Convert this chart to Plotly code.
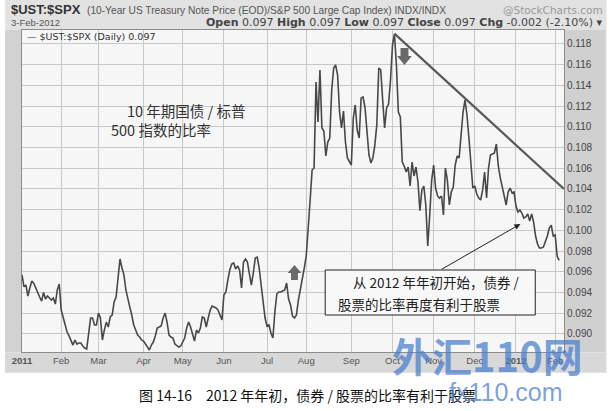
import plotly.graph_objects as go

# ---------------- data ----------------
jan11_days = [3, 4, 5, 6, 7, 10, 11, 12, 13, 14, 18, 19, 20, 21, 24, 25, 26, 27, 28, 31]
jan11_vals = [0.0957, 0.09455, 0.09472, 0.09366, 0.09443, 0.0951, 0.0949, 0.0944, 0.09404, 0.09356,
              0.09317, 0.0940, 0.09337, 0.09366, 0.09346, 0.09327, 0.09346, 0.09288, 0.09424, 0.09482]
feb11_days = [1, 2, 3, 4, 7, 8, 9, 10, 11, 14, 15, 16, 17, 18, 22, 23, 24, 25, 28]
feb11_vals = [0.0923, 0.09163, 0.09076, 0.09018, 0.0898, 0.08931, 0.08892, 0.08941, 0.08902, 0.08912,
              0.08912, 0.08883, 0.08863, 0.08854, 0.0899, 0.09153, 0.09153, 0.09086, 0.09086]
mar11_days = [1, 2, 3, 4, 7, 8, 9, 10, 11, 14, 15, 16, 17, 18, 21, 22, 23, 24, 25, 28, 29, 30, 31]
mar11_vals = [0.09201, 0.09153, 0.08941, 0.09037, 0.09114, 0.09066, 0.09163, 0.09182, 0.09308, 0.09356,
              0.0952, 0.09723, 0.09636, 0.0957, 0.09424, 0.09327, 0.09259, 0.09182, 0.09086, 0.09037,
              0.08989, 0.0897, 0.08941]
apr11_days = [1, 4, 5, 6, 7, 8, 11, 12, 13, 14, 15, 18, 19, 20, 21, 25, 26, 27, 28, 29]
apr11_vals = [0.08931, 0.08902, 0.08873, 0.08844, 0.08892, 0.08921, 0.0898, 0.09057, 0.09066, 0.09076,
              0.09153, 0.09201, 0.09114, 0.08989, 0.0897, 0.0896, 0.08902, 0.08883, 0.08873, 0.08883]
may11_days = [2, 3, 4, 5, 6, 9, 10, 11, 12, 13, 16, 17, 18, 19, 20, 23, 24, 25, 26, 27, 31]
may11_vals = [0.08921, 0.0896, 0.09057, 0.09114, 0.09066, 0.08989, 0.08931, 0.09037, 0.09008, 0.09057,
              0.09163, 0.09153, 0.09066, 0.09153, 0.0923, 0.09269, 0.09259, 0.0925, 0.0923, 0.09172, 0.09134]
jun11_days = [1, 2, 3, 6, 7, 8, 9, 10, 13, 14, 15, 16, 17, 20, 21, 22, 23, 24, 27, 28, 29, 30]
jun11_vals = [0.09375, 0.09404, 0.0952, 0.09617, 0.09675, 0.09685, 0.09627, 0.09656, 0.09617, 0.09443,
              0.09694, 0.09723, 0.09694, 0.0957, 0.09472, 0.09588, 0.09733, 0.09742, 0.09636, 0.09472,
              0.09327, 0.09153]
jul11_days = [1, 5, 6, 7, 8, 11, 12, 13, 14, 15, 18, 19, 20, 21, 22, 25, 26, 27, 28, 29]
jul11_vals = [0.09076, 0.09086, 0.09008, 0.0896, 0.09211, 0.09385, 0.09404, 0.09404, 0.09414, 0.09424,
              0.09491, 0.09337, 0.09279, 0.09172, 0.09153, 0.09182, 0.09327, 0.09424, 0.0952, 0.09636]
aug11_days = [1, 2, 3, 4, 5, 8, 9, 10, 11, 12, 15, 16, 17, 18, 19, 22, 23, 24, 25, 26, 29, 30, 31]
aug11_vals = [0.09752, 0.09984, 0.10293, 0.10583, 0.10602, 0.11433, 0.11047, 0.11549, 0.10989, 0.1096,
              0.10718, 0.10853, 0.10892, 0.11356, 0.11568, 0.11597, 0.1150, 0.11143, 0.10989, 0.11153,
              0.10853, 0.10699, 0.1066]
sep11_days = [1, 2, 6, 7, 8, 9, 12, 13, 14, 15, 16, 19, 20, 21, 22, 23, 26, 27, 28, 29, 30]
sep11_vals = [0.10631, 0.11085, 0.11211, 0.10969, 0.10892, 0.11278, 0.11288, 0.11182, 0.10921, 0.10728,
              0.1065, 0.10699, 0.10824, 0.11018, 0.11568, 0.11549, 0.11259, 0.10989, 0.11182, 0.1122, 0.11452]
oct11_days = [3, 4, 5, 6, 7, 10, 11, 12, 13, 14, 17, 18, 19, 20, 21, 24, 25, 26, 27, 28, 31]
oct11_vals = [0.1179, 0.11897, 0.11597, 0.11143, 0.11095, 0.1066, 0.10621, 0.10563, 0.10612, 0.10428,
              0.1066, 0.10525, 0.10612, 0.10467, 0.1019, 0.1039, 0.10428, 0.10245, 0.09849, 0.10148, 0.10486]
nov11_days = [1, 2, 3, 4, 7, 8, 9, 10, 11, 14, 15, 16, 17, 18, 21, 22, 23, 25, 28, 29, 30]
nov11_vals = [0.10631, 0.10409, 0.10332, 0.10312, 0.10332, 0.10148, 0.10602, 0.10486, 0.10245, 0.1037,
              0.10419, 0.10631, 0.10718, 0.10699, 0.10921, 0.11143, 0.11259, 0.11114, 0.10892, 0.10602, 0.10409]
dec11_days = [1, 2, 5, 6, 7, 8, 9, 12, 13, 14, 15, 16, 19, 20, 21, 22, 23, 27, 28, 29, 30]
dec11_vals = [0.10428, 0.10351, 0.10312, 0.10293, 0.1039, 0.10563, 0.10312, 0.10602, 0.10728, 0.10737,
              0.10747, 0.10834, 0.10621, 0.10506, 0.10419, 0.10351, 0.10245, 0.1037, 0.10409, 0.10361, 0.1037]
jan12_days = [3, 4, 5, 6, 9, 10, 11, 12, 13, 17, 18, 19, 20, 23, 24, 25, 26, 27, 30, 31]
jan12_vals = [0.10235, 0.10177, 0.10196, 0.10167, 0.10119, 0.10129, 0.10158, 0.1009, 0.10158, 0.1008,
              0.09945, 0.09868, 0.09829, 0.09829, 0.09839, 0.09887, 0.09945, 0.10022, 0.1005, 0.09945]
feb12_days = [1, 2, 3]
feb12_vals = [0.09955, 0.09752, 0.0971]

trend_dates = ["2011-10-04", "2012-02-07 12:00"]
trend_vals = [0.1190, 0.1040]

month_ticks = ["2011-01-03", "2011-02-01", "2011-03-01", "2011-04-01", "2011-05-02", "2011-06-01",
               "2011-07-01", "2011-08-01", "2011-09-01", "2011-10-03", "2011-11-01", "2011-12-01",
               "2012-01-03", "2012-02-01"]
month_labels = ["<b>2011</b>", "Feb", "Mar", "Apr", "May", "Jun", "Jul", "Aug", "Sep", "Oct", "Nov",
                "Dec", "<b>2012</b>", "Feb"]
y_ticks = [0.090, 0.092, 0.094, 0.096, 0.098, 0.100, 0.102, 0.104, 0.106, 0.108, 0.110, 0.112,
           0.114, 0.116, 0.118]
holidays = ["2011-01-17", "2011-02-21", "2011-04-22", "2011-05-30", "2011-07-04", "2011-09-05",
            "2011-11-24", "2011-12-26", "2012-01-02", "2012-01-16"]

blocks = [("2011-01", jan11_days, jan11_vals), ("2011-02", feb11_days, feb11_vals),
          ("2011-03", mar11_days, mar11_vals), ("2011-04", apr11_days, apr11_vals),
          ("2011-05", may11_days, may11_vals), ("2011-06", jun11_days, jun11_vals),
          ("2011-07", jul11_days, jul11_vals), ("2011-08", aug11_days, aug11_vals),
          ("2011-09", sep11_days, sep11_vals), ("2011-10", oct11_days, oct11_vals),
          ("2011-11", nov11_days, nov11_vals), ("2011-12", dec11_days, dec11_vals),
          ("2012-01", jan12_days, jan12_vals), ("2012-02", feb12_days, feb12_vals)]
dates, values = [], []
for ym, days, vals in blocks:
    dates += [f"{ym}-{d:02d}" for d in days]
    values += vals

# ---------------- layout helpers (pixel -> paper) ----------------
W_FIG, H_FIG = 610, 411
L, R, T, B = 17, 564, 30, 352
PW, PH = R - L, B - T


def xp(px):
    return (px - L) / PW


def yp(py):
    return (B - py) / PH


def path(points):
    return "M " + " L ".join(f"{xp(x):.5f},{yp(y):.5f}" for x, y in points) + " Z"


fig = go.Figure()
fig.add_trace(go.Scatter(x=dates, y=values, mode="lines",
                         line=dict(color="#484848", width=1.6), showlegend=False,
                         name="$UST:$SPX (Daily)"))
fig.add_trace(go.Scatter(x=trend_dates, y=trend_vals, mode="lines",
                         line=dict(color="#585858", width=2.2), showlegend=False))

shapes = [
    dict(type="rect", xref="paper", yref="paper", x0=xp(0), x1=xp(607), y0=yp(373), y1=yp(0),
         fillcolor="#e2e2e2", line_width=0, layer="below"),
    dict(type="rect", xref="paper", yref="paper", x0=xp(0), x1=xp(16), y0=yp(352), y1=yp(30),
         fillcolor="#d2d2d2", line_width=0, layer="below"),
    dict(type="rect", xref="paper", yref="paper", x0=xp(564), x1=xp(606), y0=yp(352), y1=yp(30),
         fillcolor="#d0d0d0", line_width=0, layer="below"),
    dict(type="rect", xref="paper", yref="paper", x0=xp(0), x1=xp(606), y0=yp(372), y1=yp(353),
         fillcolor="#d8d8d8", line_width=0, layer="below"),
    dict(type="rect", xref="paper", yref="paper", x0=0, x1=1, y0=0, y1=1,
         fillcolor="#f6f6f6", line_width=0, layer="below"),
    dict(type="rect", xref="paper", yref="paper", x0=xp(323), x1=xp(535), y0=yp(315), y1=yp(270),
         fillcolor="#f8f8f8", line=dict(color="#222222", width=1), layer="above"),
    dict(type="path", xref="paper", yref="paper", layer="above", line_width=0, fillcolor="#6a6a6a",
         path=path([(399, 48), (407, 48), (407, 56), (410.5, 56), (403, 65), (395.5, 56), (399, 56)])),
    dict(type="path", xref="paper", yref="paper", layer="above", line_width=0, fillcolor="#6a6a6a",
         path=path([(292, 265), (299, 273), (295.5, 273), (295.5, 280), (288.5, 280), (288.5, 273), (285, 273)])),
]

FONT = "Liberation Sans, Arial, sans-serif"
WIDE = "DejaVu Sans, Verdana, sans-serif"
CJK = "Noto Sans CJK SC"


def ann(text, px, py, size, color="#333333", xanchor="left", family=FONT, yanchor="middle"):
    return dict(text=text, x=xp(px), y=yp(py), xref="paper", yref="paper", showarrow=False,
                xanchor=xanchor, yanchor=yanchor, font=dict(size=size, color=color, family=family))


annotations = [
    ann("<b>$UST:$SPX</b>", 4, 9.5, 13, "#333333"),
    ann("(10-Year US Treasury Note Price (EOD)/S&P 500 Large Cap Index) INDX/INDX", 81, 10, 10.2, "#555555"),
    ann("@StockCharts.com", 605, 10, 10.5, "#999999", xanchor="right", family=WIDE),
    ann("3-Feb-2012", 4, 22.5, 9.5, "#555555"),
    ann("<b>Open</b> 0.097 <b>High</b> 0.097 <b>Low</b> 0.097 <b>Close</b> 0.097 <b>Chg</b> -0.002 (-2.10%) ▾",
        605, 22.5, 11, "#444444", xanchor="right", family=WIDE),
    ann("— $UST:$SPX (Daily) 0.097", 20, 37, 9.5, "#333333", family=WIDE),
    ann("10 年期国债 / 标普", 121, 110, 14.5, "#333333", family=CJK),
    ann("500 指数的比率", 105, 129, 14.5, "#333333", family=CJK),
    ann("从 2012 年年初开始，债券 /", 349, 282, 13.5, "#222222", family=CJK),
    ann("股票的比率再度有利于股票", 334, 304, 13.5, "#222222", family=CJK),
    dict(text="", x=xp(520), y=yp(224), xref="paper", yref="paper", showarrow=True,
         ax=-80, ay=46, arrowhead=2, arrowsize=1.2, arrowwidth=1, arrowcolor="#222222"),
    ann("图 14-16　2012 年年初，债券 / 股票的比率有利于股票", 305, 395, 14, "#111111",
        xanchor="center", family=CJK),
    ann("<b>外汇110网</b>", 487, 355, 40, "rgba(70,125,205,0.72)", xanchor="center", family=CJK),
    ann("fx110.com", 505, 392, 25, "rgba(70,125,205,0.72)", xanchor="center"),
]

fig.update_layout(
    width=W_FIG, height=H_FIG,
    margin=dict(l=L, r=W_FIG - R, t=T, b=H_FIG - B),
    paper_bgcolor="#ffffff", plot_bgcolor="#f6f6f6",
    shapes=shapes, annotations=annotations,
    xaxis=dict(type="date", range=["2011-01-03", "2012-02-07 12:00"],
               rangebreaks=[dict(bounds=["sat", "mon"]), dict(values=holidays)],
               tickmode="array", tickvals=month_ticks, ticktext=month_labels,
               showgrid=True, gridcolor="#c8c8c8", gridwidth=1, ticks="",
               tickfont=dict(size=9.5, color="#555555", family=FONT),
               showline=True, linecolor="#8c8c8c", mirror=True, zeroline=False),
    yaxis=dict(side="right", range=[0.08825, 0.11935], tickmode="array", tickvals=y_ticks,
               ticktext=[f"{v:.3f}" for v in y_ticks], showgrid=True, gridcolor="#c8c8c8",
               ticks="", tickfont=dict(size=10, color="#444444", family=FONT),
               showline=True, linecolor="#8c8c8c", mirror=True, zeroline=False),
    hovermode=False,
)

fig.write_html("out.html", config={"displayModeBar": False},
               post_script="document.body.style.margin='0';document.body.style.padding='0';"
                           "document.documentElement.style.overflow='hidden';")
